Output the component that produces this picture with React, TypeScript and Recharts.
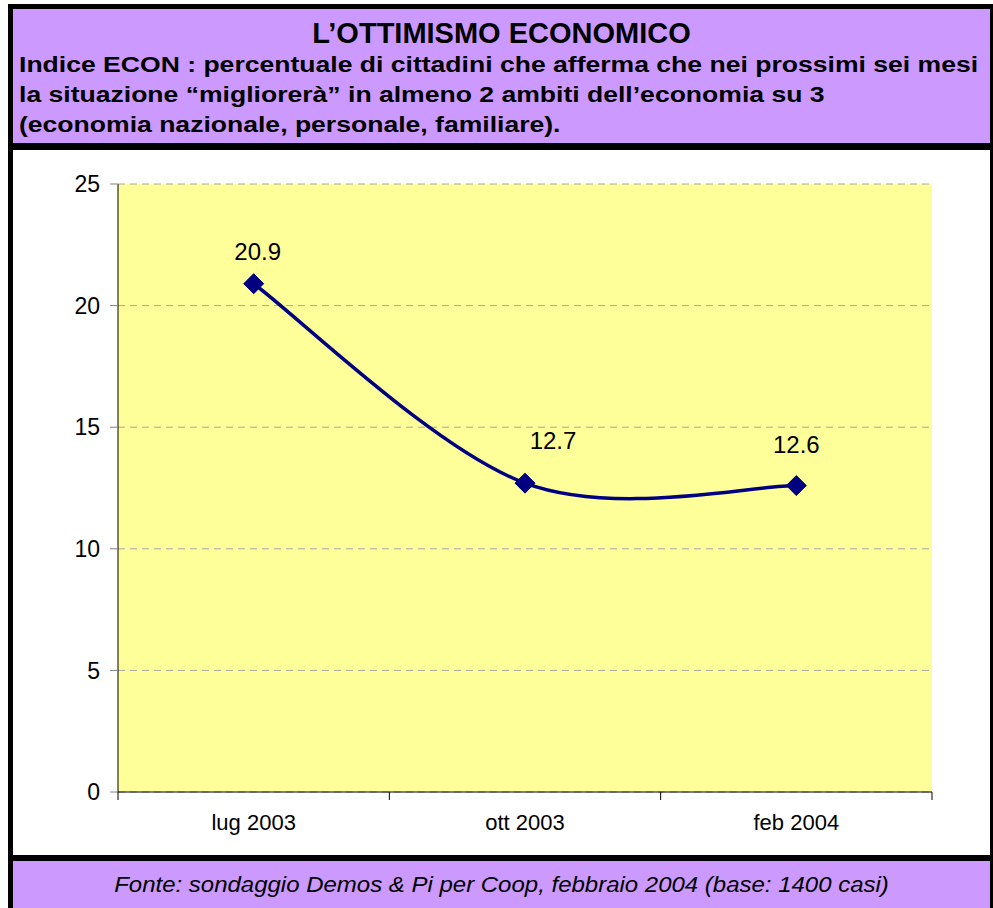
import React from 'react';
import { ComposedChart, Line, XAxis, YAxis, CartesianGrid, LabelList } from 'recharts';

const months = ['lug 2003', 'ott 2003', 'feb 2004'];
const econIndex = [20.9, 12.7, 12.6];
const yTicks = [0, 5, 10, 15, 20, 25];

const titleText = 'L\u2019OTTIMISMO ECONOMICO';
const subtitleLines = [
  'Indice ECON : percentuale di cittadini che afferma che nei prossimi sei mesi',
  'la situazione \u201cmigliorer\u00e0\u201d in almeno 2 ambiti dell\u2019economia su 3',
  '(economia nazionale, personale, familiare).',
];
const sourceText = 'Fonte: sondaggio Demos & Pi per Coop, febbraio 2004 (base: 1400 casi)';

const data = months.map((m, i) => ({ month: m, value: econIndex[i] }));

const FONT = '"Liberation Sans", Arial, Helvetica, sans-serif';
const PURPLE = '#CC99FF';
const NAVY = '#000080';

// Excel-like smoothed line (Catmull-Rom bezier)
const K = 1 / 6;
function excelSmooth(context: any) {
  let pts: [number, number][] = [];
  return {
    areaStart() {},
    areaEnd() {},
    lineStart() {
      pts = [];
    },
    lineEnd() {
      const n = pts.length;
      if (!n) return;
      context.moveTo(pts[0][0], pts[0][1]);
      for (let i = 0; i < n - 1; i++) {
        const p0 = pts[i - 1] || pts[i];
        const p1 = pts[i];
        const p2 = pts[i + 1];
        const p3 = pts[i + 2] || pts[i + 1];
        context.bezierCurveTo(
          p1[0] + (p2[0] - p0[0]) * K,
          p1[1] + (p2[1] - p0[1]) * K,
          p2[0] - (p3[0] - p1[0]) * K,
          p2[1] - (p3[1] - p1[1]) * K,
          p2[0],
          p2[1]
        );
      }
    },
    point(x: number, y: number) {
      pts.push([+x, +y]);
    },
  };
}

const Diamond = (props: any) => {
  const { cx, cy, index } = props;
  if (cx == null || cy == null) return <g key={`d-${index}`} />;
  const r = 10;
  return (
    <path
      key={`d-${index}`}
      d={`M${cx},${cy - r}L${cx + r},${cy}L${cx},${cy + r}L${cx - r},${cy}Z`}
      fill={NAVY}
      stroke={NAVY}
    />
  );
};

const labelDx = [4, 28, 0];
const labelDy = [-32, -43, -41];

const DataLabel = (props: any) => {
  const { x, y, value, index } = props;
  return (
    <text
      x={x + (labelDx[index] || 0)}
      y={y + (labelDy[index] || -36)}
      textAnchor="middle"
      dominantBaseline="central"
      fontFamily={FONT}
      fontSize={24}
      fill="#000"
    >
      {Number(value).toFixed(1)}
    </text>
  );
};

const MonthTick = (props: any) => {
  const { x, y, payload, index, visibleTicksCount } = props;
  const half = payload && payload.offset != null ? payload.offset : 0;
  const isLast = index === (visibleTicksCount ?? months.length) - 1;
  return (
    <g>
      <line x1={x - half} x2={x - half} y1={y} y2={y + 8} stroke="#000" />
      {isLast && <line x1={x + half} x2={x + half} y1={y} y2={y + 8} stroke="#000" />}
      <text x={x} y={y + 38} textAnchor="middle" fontFamily={FONT} fontSize={22} fill="#000">
        {payload.value}
      </text>
    </g>
  );
};

export default function App() {
  return (
    <div
      style={{
        position: 'absolute',
        left: 8,
        top: 4,
        width: 990,
        height: 910,
        background: '#000',
        fontFamily: FONT,
        overflow: 'hidden',
      }}
    >
      <div
        style={{
          position: 'absolute',
          left: 5,
          top: 5,
          width: 977,
          height: 134,
          background: PURPLE,
        }}
      >
        <div
          style={{
            position: 'absolute',
            left: 0,
            top: 10,
            width: 977,
            textAlign: 'center',
            fontWeight: 'bold',
            fontSize: 29,
            lineHeight: '29px',
            color: '#000',
            whiteSpace: 'nowrap',
          }}
        >
          {titleText}
        </div>
        <div
          style={{
            position: 'absolute',
            left: 5.5,
            top: 41,
            fontWeight: 'bold',
            fontSize: 22.5,
            lineHeight: '30px',
            color: '#000',
            whiteSpace: 'nowrap',
            transform: 'scaleX(1.18)',
            transformOrigin: 'left top',
          }}
        >
          {subtitleLines.map((l, i) => (
            <div key={i}>{l}</div>
          ))}
        </div>
      </div>
      <div
        style={{
          position: 'absolute',
          left: 5,
          top: 146,
          width: 977,
          height: 705,
          background: '#fff',
        }}
      >
        <ComposedChart
          width={977}
          height={705}
          data={data}
          margin={{ top: 34, right: 58, bottom: 23, left: 45 }}
        >
          <CartesianGrid
            horizontal
            vertical={false}
            stroke="#a6a6a6"
            strokeDasharray="7 5"
            fill="#FFFF99"
            fillOpacity={1}
          />
          <XAxis
            dataKey="month"
            scale="band"
            height={40}
            tickSize={0}
            tickMargin={0}
            tickLine={false}
            axisLine={{ stroke: '#000' }}
            tick={MonthTick}
          />
          <YAxis
            domain={[0, 25]}
            ticks={yTicks}
            width={60}
            tickSize={8}
            tickMargin={10}
            axisLine={{ stroke: '#000' }}
            tickLine={{ stroke: '#808080' }}
            tick={{ fill: '#000', fontSize: 23, fontFamily: FONT }}
          />
          <Line
            dataKey="value"
            type={excelSmooth as any}
            stroke={NAVY}
            strokeWidth={3.5}
            dot={Diamond}
            activeDot={false}
            isAnimationActive={false}
          >
            <LabelList dataKey="value" content={DataLabel} />
          </Line>
        </ComposedChart>
      </div>
      <div
        style={{
          position: 'absolute',
          left: 5,
          top: 857,
          width: 977,
          height: 47,
          background: PURPLE,
          color: '#000',
          overflow: 'hidden',
        }}
      >
        <div
          style={{
            position: 'absolute',
            left: 0,
            top: 0,
            width: 977,
            textAlign: 'center',
            fontStyle: 'italic',
            fontSize: 22.5,
            lineHeight: '47px',
            whiteSpace: 'nowrap',
            transform: 'scaleX(1.066)',
            transformOrigin: 'center top',
          }}
        >
          {sourceText}
        </div>
      </div>
    </div>
  );
}
